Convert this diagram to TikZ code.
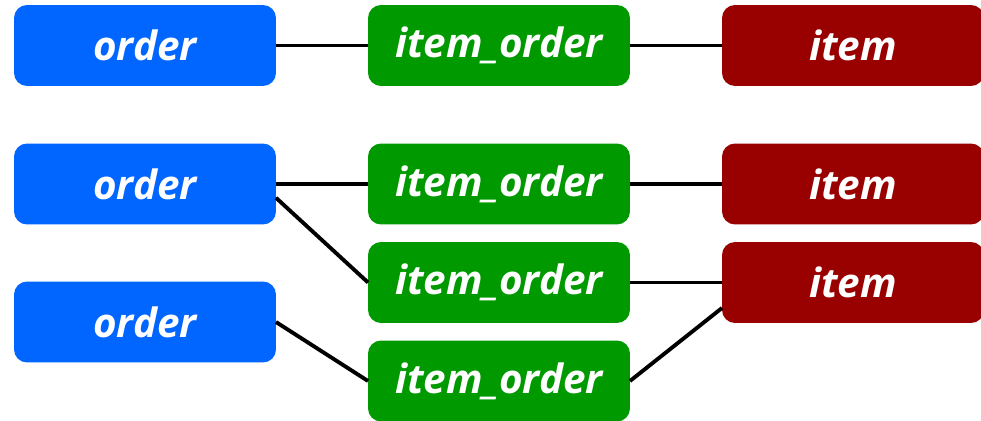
\documentclass[tikz,border=0pt]{standalone}
\usepackage{fontspec}
\setsansfont{Open Sans}
\definecolor{orderblue}{HTML}{0066FF}
\definecolor{linkgreen}{HTML}{009900}
\definecolor{itemred}{HTML}{990000}
\begin{document}
\begin{tikzpicture}[x=0.02cm, y=-0.02cm, line width=2.2pt,
  main node/.style={rectangle,rounded corners=0.26cm,minimum width=5.24cm,minimum height=1.62cm,inner sep=0pt,outer sep=0pt,text=white}]
\useasboundingbox (0,0) rectangle (981,420);
\begin{scope}[every node/.style={font=\sffamily\fontsize{23}{27}\selectfont\bfseries\itshape}]
\node[main node,fill=orderblue] (o1) at (145,45.5) {order};
\node[main node,fill=orderblue] (o2) at (145,184) {order};
\node[main node,fill=orderblue] (o3) at (145,322) {order};
\node[main node,fill=linkgreen] (io1) at (499,45.5) {item\_order};
\node[main node,fill=linkgreen] (io2) at (499,184) {item\_order};
\node[main node,fill=linkgreen] (io3) at (499,282.5) {item\_order};
\node[main node,fill=linkgreen] (io4) at (499,381) {item\_order};
\node[main node,fill=itemred] (it1) at (853,45.5) {item};
\node[main node,fill=itemred] (it2) at (853,184) {item};
\node[main node,fill=itemred] (it3) at (853,282.5) {item};
\end{scope}
\draw (o1) -- (io1);
\draw (io1) -- (it1);
\draw (o2) -- (io2);
\draw (io2) -- (it2);
\draw (o2.-6) -- (io3.west);
\draw (io3) -- (it3);
\draw (o3.east) -- (io4.west);
\draw (io4.east) -- (it3.191);
\end{tikzpicture}
\end{document}
